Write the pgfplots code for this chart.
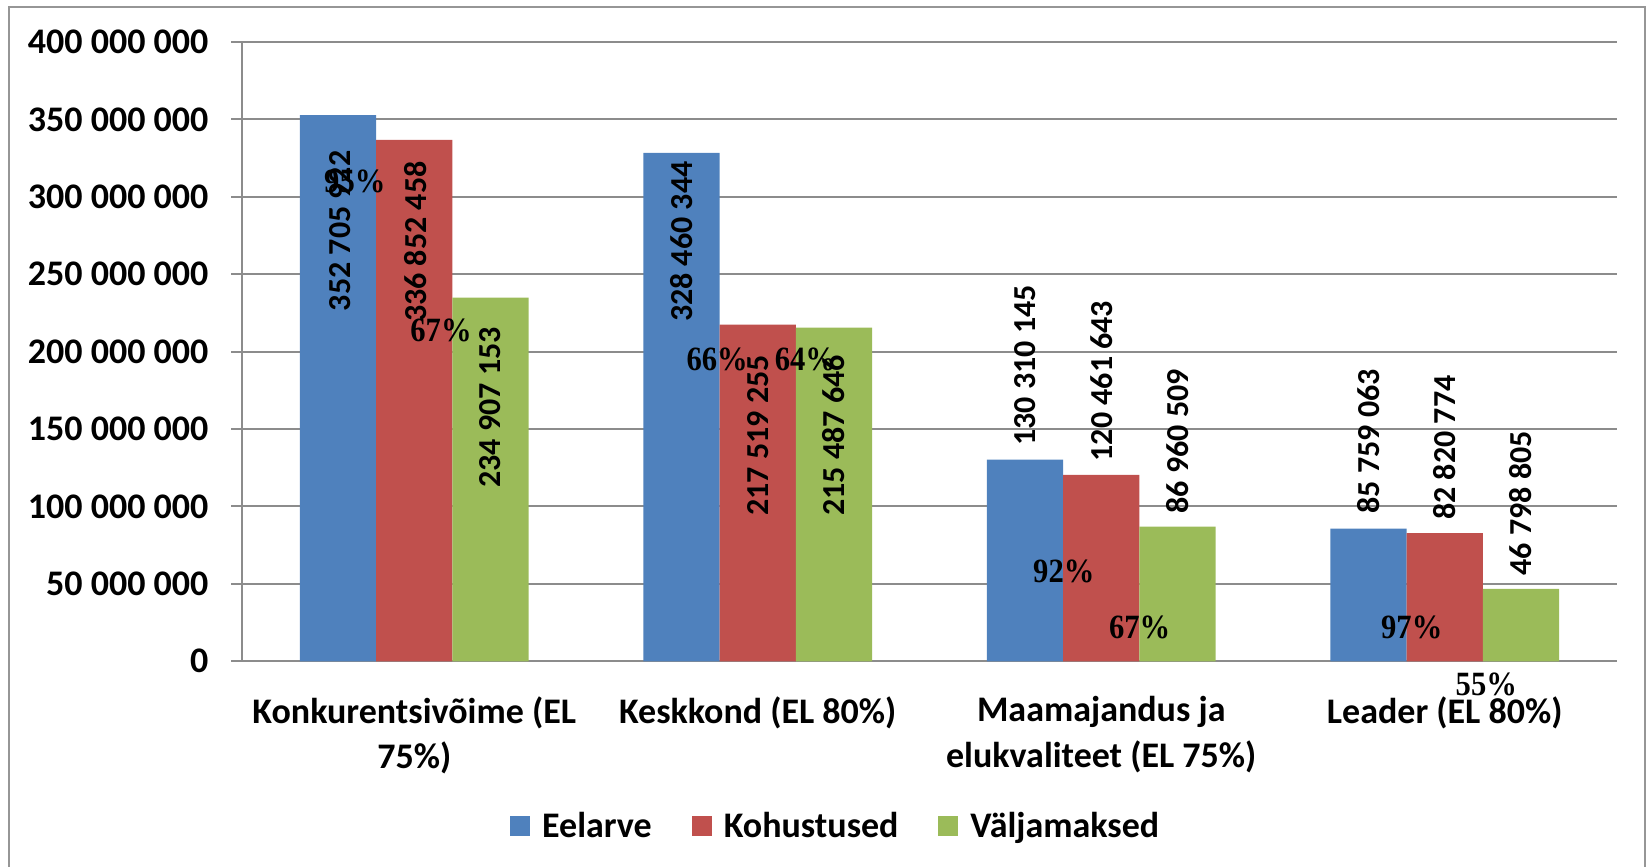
\documentclass[border=0pt]{standalone}
\usepackage{pgfplots}
\pgfplotsset{compat=1.18}
\usepackage{fontspec}
\usepackage{graphicx}
\setmainfont{Carlito}
\newfontfamily\timesfont{Liberation Serif}
\definecolor{cblue}{RGB}{79,129,189}
\definecolor{cred}{RGB}{192,80,77}
\definecolor{cgreen}{RGB}{155,187,89}
\definecolor{cgrid}{RGB}{140,140,140}
\definecolor{cframe}{RGB}{150,150,150}
\newcommand{\valfont}{\fontsize{16}{19}\selectfont\bfseries}
\newcommand{\pct}[1]{\scalebox{0.9}[1]{\timesfont\fontsize{17}{20}\selectfont\bfseries #1}}
\begin{document}
\begin{tikzpicture}[x=1pt,y=1pt]
\useasboundingbox (0,0) rectangle (823,433.5);
\draw[cframe, line width=1pt] (4.65,-2) -- (4.65,430.15) -- (822.35,430.15) -- (822.35,-2);
\begin{axis}[
  at={(121.25pt,102.85pt)}, anchor=south west,
  scale only axis, width=687pt, height=309.65pt,
  xmin=-0.5, xmax=3.5, ymin=0, ymax=400000000,
  ybar, bar width=0.222,
  clip=false,
  axis x line*=bottom, axis y line*=left,
  axis line style={cgrid, line width=1pt},
  ymajorgrids, grid style={cgrid, line width=1pt},
  tick align=outside, major tick length=5.5pt,
  tick style={cgrid, line width=1pt},
  scaled y ticks=false,
  ytick={0,50000000,100000000,150000000,200000000,250000000,300000000,350000000,400000000},
  yticklabels={0,50 000 000,100 000 000,150 000 000,200 000 000,250 000 000,300 000 000,350 000 000,400 000 000},
  ticklabel style={font=\fontsize{18}{22.6}\selectfont\bfseries},
  yticklabel style={inner sep=0pt, xshift=-11.35pt},
  xtick={0,1,2,3},
  xticklabels={{Konkurentsivõime (EL\\75\%)},{Keskkond (EL 80\%)},{Maamajandus ja\\elukvaliteet (EL 75\%)},{Leader (EL 80\%)}},
  xticklabel style={align=center, inner sep=0pt, anchor=north, yshift=-12pt},
  x tick style={draw=none},
  extra x ticks={-0.5,0.5,1.5,2.5,3.5},
  extra x tick labels={},
  extra x tick style={major tick length=7pt, tick style={draw=cgrid, line width=1pt}},
  legend columns=-1,
  legend style={draw=none, fill=none, at={(0.431,-0.266)}, anchor=center,
    font=\fontsize{18}{22.6}\selectfont\bfseries,
    nodes={inner sep=0pt, anchor=west},
    /tikz/every odd column/.append style={column sep=6pt},
    /tikz/every even column/.append style={column sep=20pt}},
  legend image code/.code={\fill[#1] (0pt,-5pt) rectangle (10pt,5pt);},
]
\addplot[fill=cblue, draw=none, bar shift=-0.222] coordinates {(0,352705922) (1,328460344) (2,130310145) (3,85759063)};
\addplot[fill=cred, draw=none, bar shift=0] coordinates {(0,336852458) (1,217519255) (2,120461643) (3,82820774)};
\addplot[fill=cgreen, draw=none, bar shift=0.222] coordinates {(0,234907153) (1,215487646) (2,86960509) (3,46798805)};
\legend{Eelarve,Kohustused,Väljamaksed}
% value labels
\node[rotate=90, font=\valfont] at (axis cs:-0.215,278000000) {352 705 922};
\node[rotate=90, font=\valfont] at (axis cs:0.003,271000000) {336 852 458};
\node[rotate=90, font=\valfont] at (axis cs:0.222,164000000) {234 907 153};
\node[rotate=90, font=\valfont] at (axis cs:0.778,271000000) {328 460 344};
\node[rotate=90, font=\valfont] at (axis cs:1,146000000) {217 519 255};
\node[rotate=90, font=\valfont] at (axis cs:1.222,146000000) {215 487 646};
\node[rotate=90, font=\valfont] at (axis cs:1.778,191000000) {130 310 145};
\node[rotate=90, font=\valfont] at (axis cs:2,181000000) {120 461 643};
\node[rotate=90, font=\valfont] at (axis cs:2.222,142000000) {86 960 509};
\node[rotate=90, font=\valfont] at (axis cs:2.778,142000000) {85 759 063};
\node[rotate=90, font=\valfont] at (axis cs:3,138000000) {82 820 774};
\node[rotate=90, font=\valfont] at (axis cs:3.222,102000000) {46 798 805};
% percentage labels
\node at (axis cs:-0.173,310000000) {\pct{95\%}};
\node at (axis cs:0.078,214000000) {\pct{67\%}};
\node at (axis cs:0.882,195000000) {\pct{66\%}};
\node at (axis cs:1.139,195000000) {\pct{64\%}};
\node at (axis cs:1.891,58300000) {\pct{92\%}};
\node at (axis cs:2.112,21700000) {\pct{67\%}};
\node at (axis cs:2.904,21700000) {\pct{97\%}};
\node at (axis cs:3.121,-14900000) {\pct{55\%}};
\end{axis}
\end{tikzpicture}
\end{document}
